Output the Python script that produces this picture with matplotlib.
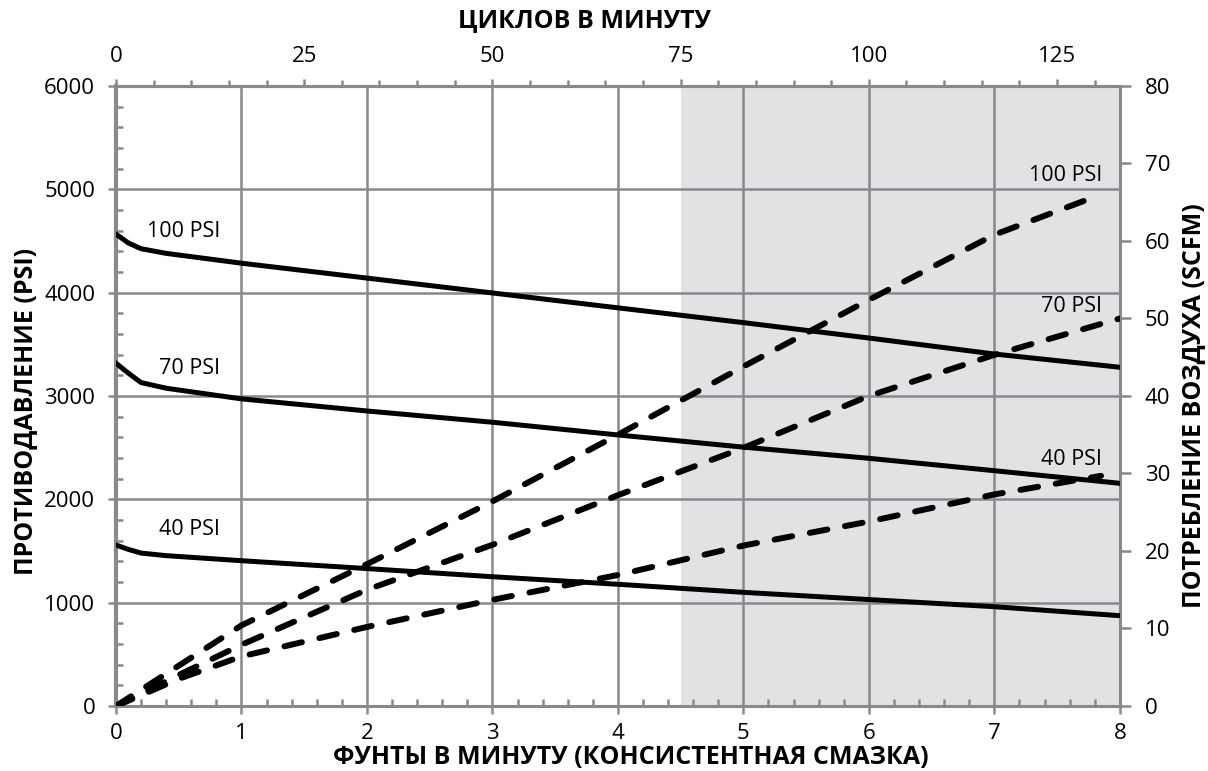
import matplotlib
matplotlib.use("Agg")
import matplotlib.pyplot as plt
from matplotlib.ticker import MultipleLocator

plt.rcParams['font.family'] = ['Open Sans', 'DejaVu Sans']

# back pressure (left axis, PSI) vs pounds per minute
bp_x = [0, 0.1, 0.2, 0.4, 1, 2, 3, 4, 5, 6, 7, 8]
bp_100 = [4566, 4480, 4425, 4380, 4285, 4141, 3997, 3853, 3710, 3561, 3406, 3278]
bp_70 = [3317, 3220, 3130, 3075, 2972, 2855, 2746, 2623, 2505, 2397, 2277, 2155]
bp_40 = [1558, 1515, 1480, 1455, 1406, 1330, 1251, 1178, 1100, 1030, 961, 874]

# air consumption (right axis, SCFM)
air_x_100 = [0, 0.5, 1, 2, 3, 4, 5, 6, 7, 7.8]
air_100 = [0, 5.2, 10.4, 18.3, 26.4, 35.0, 43.8, 52.4, 60.8, 65.7]
air_x_70 = [0, 0.5, 1, 2, 3, 4, 5, 6, 7, 8]
air_70 = [0, 4.0, 7.9, 15.0, 20.8, 27.2, 33.3, 40.0, 45.3, 50.0]
air_x_40 = [0, 0.5, 1, 2, 3, 4, 5, 6, 7, 7.85]
air_40 = [0, 3.5, 6.4, 10.2, 13.7, 16.9, 20.7, 23.8, 27.3, 29.7]

cycles_per_lb = 50 / 3
x_max = 8
shade_from = 4.5

grid_c = '#88898d'
shade_c = '#e1e2e4'

fig = plt.figure(figsize=(12.08, 7.71), dpi=100)
ax = fig.add_axes([0.096, 0.0843, 0.831, 0.8042])

ax.axvspan(shade_from, x_max, color=shade_c, zorder=0, lw=0)

ax.set_xlim(0, x_max)
ax.set_ylim(0, 6000)
ax.xaxis.set_major_locator(MultipleLocator(1))
ax.xaxis.set_minor_locator(MultipleLocator(0.2))
ax.yaxis.set_major_locator(MultipleLocator(1000))
ax.yaxis.set_minor_locator(MultipleLocator(200))
ax.grid(True, which='major', color=grid_c, lw=1.8, zorder=1)
ax.set_axisbelow(True)

ax.tick_params(axis='both', which='major', direction='out', length=6, width=1.8,
               color=grid_c, labelsize=16, pad=9)
ax.tick_params(axis='x', which='major', pad=6)
ax.tick_params(axis='both', which='minor', direction='in', length=5, width=1.8,
               color=grid_c)
for s in ax.spines.values():
    s.set_color(grid_c)
    s.set_linewidth(2.2)
ax.spines['left'].set_linewidth(3)

ax.plot(bp_x, bp_100, color='black', lw=3.6, zorder=3)
ax.plot(bp_x, bp_70, color='black', lw=3.6, zorder=3)
ax.plot(bp_x, bp_40, color='black', lw=3.6, zorder=3)

ax.text(0.83, 4590, '100 PSI', ha='right', va='center', fontsize=15.5, zorder=4)
ax.text(0.83, 3262, '70 PSI', ha='right', va='center', fontsize=15.5, zorder=4)
ax.text(0.83, 1704, '40 PSI', ha='right', va='center', fontsize=15.5, zorder=4)
ax.text(7.86, 5130, '100 PSI', ha='right', va='center', fontsize=15.5, zorder=4)
ax.text(7.86, 3862, '70 PSI', ha='right', va='center', fontsize=15.5, zorder=4)
ax.text(7.86, 2381, '40 PSI', ha='right', va='center', fontsize=15.5, zorder=4)

ax.set_xlabel('ФУНТЫ В МИНУТУ (КОНСИСТЕНТНАЯ СМАЗКА)', fontsize=18,
              fontweight='bold', va='center')
ax.xaxis.set_label_coords(0.513, -0.083)
ax.set_ylabel('ПРОТИВОДАВЛЕНИЕ (PSI)', fontsize=18, fontweight='bold', va='center')
ax.yaxis.set_label_coords(-0.0906, 0.475)

# right axis: air consumption
ax2 = ax.twinx()
ax2.set_ylim(0, 80)
ax2.yaxis.set_major_locator(MultipleLocator(10))
ax2.tick_params(axis='y', which='major', direction='out', length=8, width=1.8,
                color=grid_c, labelsize=16, pad=10)
for s in ax2.spines.values():
    s.set_visible(False)
dash = dict(color='black', lw=4.3, dashes=(3.0, 3.0), dash_capstyle='round', zorder=3)
ax2.plot(air_x_100, air_100, **dash)
ax2.plot(air_x_70, air_70, **dash)
ax2.plot(air_x_40, air_40, **dash)
ax2.set_ylabel('ПОТРЕБЛЕНИЕ ВОЗДУХА (SCFM)', fontsize=18, fontweight='bold',
               va='center')
ax2.yaxis.set_label_coords(1.0737, 0.485)

# top axis: cycles per minute
top = ax.twiny()
top.set_xlim(0, x_max * cycles_per_lb)
top.xaxis.set_major_locator(MultipleLocator(25))
top.xaxis.set_minor_locator(MultipleLocator(5))
top.tick_params(axis='x', which='major', direction='out', length=5, width=1.8,
                color=grid_c, labelsize=16, pad=9)
top.tick_params(axis='x', which='minor', direction='out', length=4, width=1.8,
                color=grid_c)
top.tick_params(axis='y', left=False, right=False, labelleft=False, labelright=False)
for name, s in top.spines.items():
    s.set_visible(name == 'top')
top.spines['top'].set_color(grid_c)
top.spines['top'].set_linewidth(2.2)
top.set_xlabel('ЦИКЛОВ В МИНУТУ', fontsize=18, fontweight='bold', labelpad=13)
top.xaxis.label.set_x(0.467)

fig.savefig('out.png', dpi=100)
